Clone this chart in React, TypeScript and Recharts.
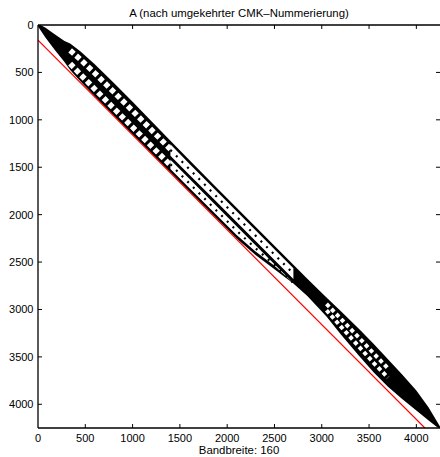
import React from 'react';
import { ComposedChart, Area, Line, XAxis, YAxis, ReferenceLine } from 'recharts';

// ---- data ----
const N = 4250; // matrix size (axis extent)
const BANDWIDTH = 160;
const TITLE = 'A (nach umgekehrter CMK–Nummerierung)';
const XLABEL = 'Bandbreite: 160';
const xTicks = [0, 500, 1000, 1500, 2000, 2500, 3000, 3500, 4000];
const yTicks = [0, 500, 1000, 1500, 2000, 2500, 3000, 3500, 4000];

// positions along the diagonal and how far the black band reaches above / below it
const diagPos = [0, 80, 180, 280, 340, 450, 600, 800, 1000, 1200, 1400, 1600, 1850, 2100, 2300, 2500, 2700, 2850, 3050, 3200, 3400, 3550, 3700, 3850, 4000, 4130, 4250];
const upperReach = [15, 50, 80, 110, 145, 170, 185, 190, 190, 185, 180, 175, 172, 172, 172, 172, 172, 172, 175, 185, 190, 185, 175, 165, 145, 95, 15];
const lowerReach = [15, 55, 85, 110, 135, 145, 152, 155, 155, 155, 155, 155, 155, 152, 125, 75, 25, 10, 25, 60, 95, 115, 115, 95, 65, 40, 15];

// structure zones along the diagonal
const latticeZoneA = [340, 1400];
const sparseZone = [1400, 2700];
const latticeZoneB = [3050, 3700];

// red bandwidth line
const redX = [0, N - BANDWIDTH];
const redY = [BANDWIDTH, N];

// ---- derived tables ----
const CENTER_HALF = 22;
const EDGE = 37;
const TICK_LEN = 42; // inward tick length in axis units (~4px)
const rows = diagPos.map((t, i) => ({ t, u: upperReach[i], d: lowerReach[i] }));
const within = (r: { t: number }, z: number[]) => r.t >= z[0] && r.t <= z[1];

const bandData = rows.map((r) => ({ x: r.t, band: [r.t - r.u, r.t + r.d] }));
const sparseRows = rows.filter((r) => within(r, sparseZone));
const upperGap = sparseRows.map((r) => ({ x: r.t, band: [r.t - r.u + EDGE, r.t - CENTER_HALF] }));
const lowerGap = sparseRows.map((r) => ({ x: r.t, band: [r.t + CENTER_HALF, r.t + Math.max(CENTER_HALF, r.d - EDGE)] }));
const upperDots = sparseRows.map((r) => ({ x: r.t, y: r.t - (r.u - 15) / 2 }));
const lowerDots = sparseRows.map((r) => ({ x: r.t, y: r.t + (CENTER_HALF + Math.max(CENTER_HALF, r.d - EDGE)) / 2 }));

const aRows = rows.filter((r) => within(r, latticeZoneA));
const holesAUp = aRows.map((r) => ({ x: r.t, y: r.t - r.u * 0.5 }));
const holesALo = aRows.map((r) => ({ x: r.t, y: r.t + r.d * 0.5 }));

const bRows = rows.filter((r) => within(r, latticeZoneB));
const holesB1 = bRows.map((r) => ({ x: r.t, y: r.t - r.u + (r.u + r.d) / 3 }));
const holesB2 = bRows.map((r) => ({ x: r.t, y: r.t - r.u + (2 * (r.u + r.d)) / 3 }));

const redLine = redX.map((x, i) => ({ x, y: redY[i] }));

const FONT = '"Liberation Sans", Arial, Helvetica, sans-serif';
const tickStyle = { fill: '#000', fontSize: 11, fontFamily: FONT };

export default function App() {
  const lineCommon = {
    dataKey: 'y',
    type: 'linear' as const,
    dot: false,
    activeDot: false,
    isAnimationActive: false,
    legendType: 'none' as const,
  };
  const axisLine = { stroke: '#000', strokeWidth: 1.3 };
  const tickMarks: React.ReactNode[] = [];
  xTicks.forEach((v) => {
    if (v > 0) {
      tickMarks.push(<ReferenceLine key={'xt' + v} segment={[{ x: v, y: 0 }, { x: v, y: TICK_LEN }]} stroke="#000" strokeWidth={1} ifOverflow="visible" />);
      tickMarks.push(<ReferenceLine key={'xb' + v} segment={[{ x: v, y: N }, { x: v, y: N - TICK_LEN }]} stroke="#000" strokeWidth={1} ifOverflow="visible" />);
    }
  });
  yTicks.forEach((v) => {
    if (v > 0) {
      tickMarks.push(<ReferenceLine key={'yl' + v} segment={[{ x: 0, y: v }, { x: TICK_LEN, y: v }]} stroke="#000" strokeWidth={1} ifOverflow="visible" />);
      tickMarks.push(<ReferenceLine key={'yr' + v} segment={[{ x: N, y: v }, { x: N - TICK_LEN, y: v }]} stroke="#000" strokeWidth={1} ifOverflow="visible" />);
    }
  });
  return (
    <div style={{ position: 'absolute', left: 0, top: 0, width: 440, height: 457, background: '#fff' }}>
      <ComposedChart width={440} height={457} margin={{ top: 0, right: 0, bottom: 0, left: 0 }}>
        <XAxis
          dataKey="x"
          type="number"
          domain={[0, N]}
          allowDataOverflow
          ticks={xTicks}
          interval={0}
          orientation="bottom"
          height={29}
          tickSize={0}
          tickMargin={6}
          axisLine={axisLine}
          tickLine={false}
          tick={tickStyle}
        />
        <XAxis
          xAxisId="top"
          type="number"
          domain={[0, N]}
          allowDataOverflow
          ticks={xTicks}
          interval={0}
          orientation="top"
          height={25}
          tickSize={0}
          tick={false}
          axisLine={axisLine}
          tickLine={false}
        />
        <YAxis
          type="number"
          domain={[0, N]}
          allowDataOverflow
          reversed
          ticks={yTicks}
          interval={0}
          width={38}
          tickSize={0}
          tickMargin={4.5}
          axisLine={axisLine}
          tickLine={false}
          tick={tickStyle}
        />
        <YAxis
          yAxisId="right"
          type="number"
          domain={[0, N]}
          allowDataOverflow
          reversed
          ticks={yTicks}
          interval={0}
          orientation="right"
          width={0}
          tickSize={0}
          tick={false}
          axisLine={axisLine}
          tickLine={false}
        />

        <Area data={bandData} dataKey="band" type="linear" stroke="none" fill="#000" fillOpacity={1} isAnimationActive={false} dot={false} activeDot={false} />
        <Area data={upperGap} dataKey="band" type="linear" stroke="none" fill="#fff" fillOpacity={1} isAnimationActive={false} dot={false} activeDot={false} />
        <Area data={lowerGap} dataKey="band" type="linear" stroke="none" fill="#fff" fillOpacity={1} isAnimationActive={false} dot={false} activeDot={false} />

        <Line {...lineCommon} data={holesAUp} stroke="#fff" strokeWidth={5.5} strokeDasharray="5 3" />
        <Line {...lineCommon} data={holesALo} stroke="#fff" strokeWidth={5.5} strokeDasharray="5 3" />
        <Line {...lineCommon} data={holesB1} stroke="#fff" strokeWidth={4} strokeDasharray="4 3" />
        <Line {...lineCommon} data={holesB2} stroke="#fff" strokeWidth={4} strokeDasharray="4 3" />
        <Line {...lineCommon} data={upperDots} stroke="#000" strokeWidth={2.2} strokeDasharray="2 6" />
        <Line {...lineCommon} data={lowerDots} stroke="#000" strokeWidth={2.2} strokeDasharray="2 6" />

        <Line {...lineCommon} data={redLine} stroke="#ff0000" strokeWidth={1.2} />
        {tickMarks}
      </ComposedChart>
      <div style={{ position: 'absolute', left: 38, width: 402, top: 7.6, textAlign: 'center', fontFamily: FONT, fontSize: 11.4, lineHeight: 1, color: '#000', whiteSpace: 'nowrap' }}>
        {TITLE}
      </div>
      <div style={{ position: 'absolute', left: 38, width: 402, top: 445.3, textAlign: 'center', fontFamily: FONT, fontSize: 11.4, lineHeight: 1, color: '#000', whiteSpace: 'nowrap' }}>
        {XLABEL}
      </div>
    </div>
  );
}
